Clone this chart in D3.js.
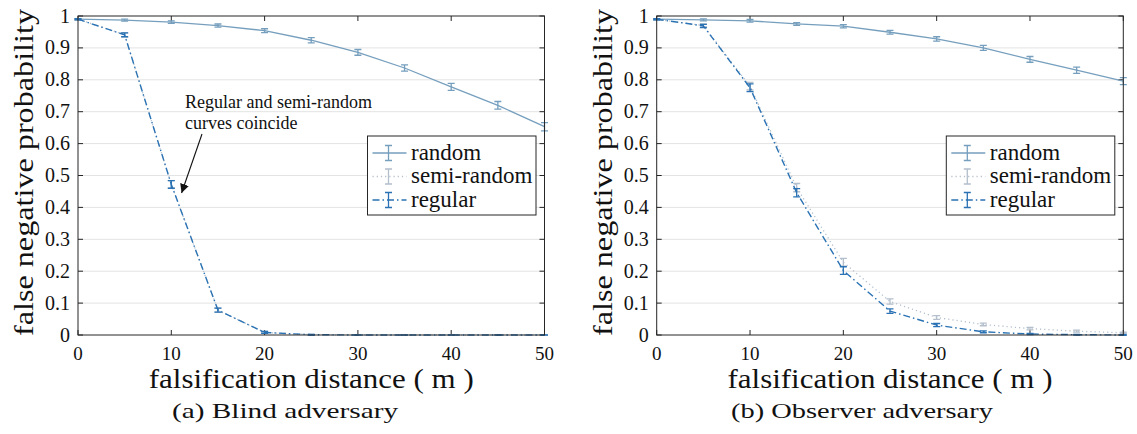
<!DOCTYPE html>
<html>
<head>
<meta charset="utf-8">
<script src="https://cdn.jsdelivr.net/npm/d3@7"></script>
<style>
    body { margin: 0; background: #fff; }
    text { font-family: "Liberation Serif", "Times New Roman", serif; fill: #111; }
</style>
</head>
<body>
<div id="plot"></div>
<script>
// Data
// ==================================================================
const distances = [0, 5, 10, 15, 20, 25, 30, 35, 40, 45, 50];
const yTicks = [0, 0.1, 0.2, 0.3, 0.4, 0.5, 0.6, 0.7, 0.8, 0.9, 1];
const xTicks = [0, 10, 20, 30, 40, 50];
const seriesNames = ["random", "semi-random", "regular"];

// (a) blind adversary
const blindRandom = [0.990, 0.987, 0.981, 0.970, 0.954, 0.924, 0.886, 0.837, 0.778, 0.720, 0.653];
const blindRandomErr = [0.002, 0.003, 0.004, 0.005, 0.006, 0.008, 0.009, 0.010, 0.011, 0.012, 0.013];
const blindSemi = [0.990, 0.941, 0.472, 0.078, 0.008, 0.001, 0, 0, 0, 0, 0];
const blindSemiErr = [0.002, 0.006, 0.012, 0.006, 0.003, 0.001, 0, 0, 0, 0, 0];
const blindRegular = [0.990, 0.941, 0.472, 0.078, 0.008, 0.001, 0, 0, 0, 0, 0];
const blindRegularErr = [0.002, 0.006, 0.012, 0.006, 0.003, 0.001, 0, 0, 0, 0, 0];

// (b) observer adversary
const obsRandom = [0.990, 0.988, 0.985, 0.975, 0.968, 0.949, 0.928, 0.900, 0.864, 0.830, 0.796];
const obsRandomErr = [0.002, 0.003, 0.004, 0.004, 0.005, 0.006, 0.007, 0.008, 0.009, 0.010, 0.011];
const obsSemi = [0.990, 0.970, 0.780, 0.462, 0.228, 0.105, 0.055, 0.033, 0.020, 0.012, 0.007];
const obsSemiErr = [0.002, 0.005, 0.012, 0.013, 0.012, 0.008, 0.006, 0.004, 0.004, 0.003, 0.002];
const obsRegular = [0.990, 0.969, 0.775, 0.446, 0.202, 0.075, 0.031, 0.010, 0.003, 0.001, 0.000];
const obsRegularErr = [0.002, 0.005, 0.012, 0.013, 0.012, 0.007, 0.005, 0.003, 0.002, 0.001, 0.001];

// Styles
// ==================================================================
const W = 1137, H = 434,
    plotTop = 16, plotBottom = 335;

const styles = {
    "random":      {color: "#769fbe", dash: null,          width: 1.3},
    "semi-random": {color: "#b3bfcc", dash: "1.2,3",       width: 1.3},
    "regular":     {color: "#2a72b3", dash: "7,3,1.5,3",   width: 1.4}
};

let svg = d3.select("#plot")
    .append("svg")
        .attr("width", W)
        .attr("height", H);

svg.append("defs").append("marker")
    .attr("id", "arrow")
    .attr("viewBox", "0 0 10 10")
    .attr("refX", 10).attr("refY", 5)
    .attr("markerWidth", 9).attr("markerHeight", 9)
    .attr("markerUnits", "userSpaceOnUse")
    .attr("orient", "auto")
  .append("path")
    .attr("d", "M0,0 L10,5 L0,10 Z")
    .attr("fill", "#111");

// Functions
// ==================================================================
function draw_panel(left, right, series, caption, captionX) {
    const xScale = d3.scaleLinear().domain([0, 50]).range([left, right]);
    const yScale = d3.scaleLinear().domain([0, 1]).range([plotBottom, plotTop]);
    const g = svg.append("g");

    // horizontal grid
    g.selectAll("line.grid")
        .data(yTicks.slice(1, -1))
        .enter()
        .append("line")
            .attr("x1", left).attr("x2", right)
            .attr("y1", d => yScale(d)).attr("y2", d => yScale(d))
            .attr("stroke", "#e3e3e3")
            .attr("stroke-width", 1);

    // inward ticks, all four sides
    const tl = 5;
    xTicks.forEach(t => {
        g.append("line").attr("x1", xScale(t)).attr("x2", xScale(t))
            .attr("y1", plotBottom).attr("y2", plotBottom - tl).attr("stroke", "#262626");
        g.append("line").attr("x1", xScale(t)).attr("x2", xScale(t))
            .attr("y1", plotTop).attr("y2", plotTop + tl).attr("stroke", "#262626");
    });
    yTicks.forEach(t => {
        g.append("line").attr("x1", left).attr("x2", left + tl)
            .attr("y1", yScale(t)).attr("y2", yScale(t)).attr("stroke", "#262626");
        g.append("line").attr("x1", right).attr("x2", right - tl)
            .attr("y1", yScale(t)).attr("y2", yScale(t)).attr("stroke", "#262626");
    });

    // tick labels
    g.selectAll("text.xt")
        .data(xTicks)
        .enter()
        .append("text")
            .attr("x", d => xScale(d))
            .attr("y", 360)
            .attr("text-anchor", "middle")
            .attr("font-size", "19px")
            .text(d => d);

    g.selectAll("text.yt")
        .data(yTicks)
        .enter()
        .append("text")
            .attr("x", left - 8)
            .attr("y", d => yScale(d) + 6.5)
            .attr("text-anchor", "end")
            .attr("font-size", "20px")
            .text(d => (d === 0 || d === 1) ? d : d.toFixed(1));

    // series: draw lines, then error bars
    const line = d3.line()
        .x((d, i) => xScale(distances[i]))
        .y(d => yScale(d));

    series.forEach(s => {
        const st = styles[s.name];
        g.append("path")
            .datum(s.values)
            .attr("d", line)
            .attr("fill", "none")
            .attr("stroke", st.color)
            .attr("stroke-width", st.width)
            .attr("stroke-dasharray", st.dash);

        const cap = 3.5;
        s.values.forEach((v, i) => {
            const x = xScale(distances[i]),
                y0 = yScale(v - s.err[i]),
                y1 = yScale(v + s.err[i]);
            g.append("path")
                .attr("d", "M" + x + "," + y0 + "V" + y1 +
                    "M" + (x - cap) + "," + y0 + "H" + (x + cap) +
                    "M" + (x - cap) + "," + y1 + "H" + (x + cap))
                .attr("fill", "none")
                .attr("stroke", st.color)
                .attr("stroke-width", 1.3);
        });
    });

    // box
    g.append("rect")
        .attr("x", left).attr("y", plotTop)
        .attr("width", right - left).attr("height", plotBottom - plotTop)
        .attr("fill", "none")
        .attr("stroke", "#262626")
        .attr("stroke-width", 1);

    // legend
    const lx = right - 177, ly = 136;
    g.append("rect")
        .attr("x", lx).attr("y", ly)
        .attr("width", 168.5).attr("height", 79)
        .attr("fill", "#fff")
        .attr("stroke", "#262626")
        .attr("stroke-width", 1);

    seriesNames.forEach((name, i) => {
        const st = styles[name],
            yy = ly + 17 + i * 23.5;
        g.append("line")
            .attr("x1", lx + 5).attr("x2", lx + 39)
            .attr("y1", yy).attr("y2", yy)
            .attr("stroke", st.color)
            .attr("stroke-width", st.width)
            .attr("stroke-dasharray", st.dash);
        g.append("path")
            .attr("d", "M" + (lx + 21) + "," + (yy - 7.5) + "V" + (yy + 7.5) +
                "M" + (lx + 17.5) + "," + (yy - 7.5) + "H" + (lx + 24.5) +
                "M" + (lx + 17.5) + "," + (yy + 7.5) + "H" + (lx + 24.5))
            .attr("fill", "none")
            .attr("stroke", st.color)
            .attr("stroke-width", 1.3);
        g.append("text")
            .attr("x", lx + 43.5)
            .attr("y", yy + 6.5)
            .attr("font-size", "23px")
            .text(name);
    });

    // axis titles
    g.append("text")
        .attr("x", (left + right) / 2)
        .attr("y", 388)
        .attr("text-anchor", "middle")
        .attr("font-size", "27px")
        .attr("textLength", 325)
        .attr("lengthAdjust", "spacingAndGlyphs")
        .text("falsification distance ( m )");

    g.append("text")
        .attr("transform", "translate(" + (left - 45) + "," + ((plotTop + plotBottom) / 2 - 3) + ") rotate(-90)")
        .attr("text-anchor", "middle")
        .attr("font-size", "28px")
        .attr("textLength", 327)
        .attr("lengthAdjust", "spacingAndGlyphs")
        .text("false negative probability");

    g.append("text")
        .attr("x", captionX)
        .attr("y", 418)
        .attr("text-anchor", "middle")
        .attr("font-size", "22px")
        .attr("textLength", caption.length * 11.9)
        .attr("lengthAdjust", "spacingAndGlyphs")
        .text(caption);

    return {xScale: xScale, yScale: yScale, g: g};
};

// Plot
// ==================================================================
let panelA = draw_panel(78, 544.5, [
    {name: "random", values: blindRandom, err: blindRandomErr},
    {name: "semi-random", values: blindSemi, err: blindSemiErr},
    {name: "regular", values: blindRegular, err: blindRegularErr}
], "(a) Blind adversary", 285);

let panelB = draw_panel(656.7, 1123.3, [
    {name: "random", values: obsRandom, err: obsRandomErr},
    {name: "semi-random", values: obsSemi, err: obsSemiErr},
    {name: "regular", values: obsRegular, err: obsRegularErr}
], "(b) Observer adversary", 862);

// annotation on (a)
panelA.g.append("text")
    .attr("x", 185).attr("y", 108)
    .attr("font-size", "18px")
    .text("Regular and semi-random");
panelA.g.append("text")
    .attr("x", 185).attr("y", 129)
    .attr("font-size", "18px")
    .text("curves coincide");
panelA.g.append("line")
    .attr("x1", 202).attr("y1", 134)
    .attr("x2", panelA.xScale(11.1)).attr("y2", panelA.yScale(0.445))
    .attr("stroke", "#111")
    .attr("stroke-width", 1.1)
    .attr("marker-end", "url(#arrow)");
</script>
</body>
</html>
